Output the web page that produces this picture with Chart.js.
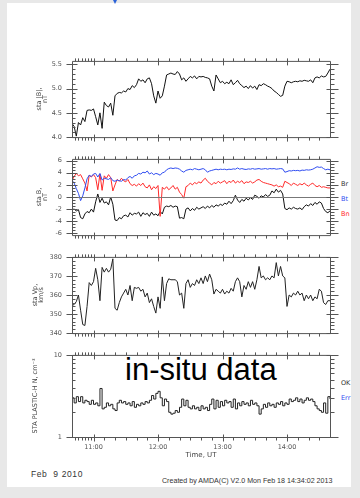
<!DOCTYPE html>
<html>
<head>
<meta charset="utf-8">
<script src="https://cdn.jsdelivr.net/npm/chart.js@4.4.1/dist/chart.umd.min.js"></script>
<style>
  html, body { margin: 0; padding: 0; }
  body { width: 360px; height: 498px; background: #e8e8e8; position: relative; overflow: hidden; font-family: "DejaVu Sans", sans-serif; }
  #card { position: absolute; left: 7px; top: 3px; width: 344px; height: 484px; background: #fff; overflow: hidden; }
  #pin { position: absolute; left: 113px; top: 0; width: 0; height: 0; border-left: 2px solid transparent; border-right: 2px solid transparent; border-top: 4px solid #2a62d8; }
  canvas { position: absolute; left: 0; }
  .side { position: absolute; font-size: 6.5px; line-height: 7px; white-space: nowrap; }
  #insitu { position: absolute; left: 118px; top: 351px; font: 31px/31px "Liberation Sans", Arial, sans-serif; color: #000; white-space: nowrap; }
  #date { position: absolute; left: 24px; top: 466px; font: 8.5px/10px "Liberation Sans", Arial, sans-serif; letter-spacing: .6px; color: #333; white-space: pre; }
  #made { position: absolute; left: 155px; top: 473px; font: 7.1px/10px "Liberation Sans", Arial, sans-serif; letter-spacing: 0; color: #333; white-space: pre; }
</style>
</head>
<body>
<div id="card">
  <div id="insitu">in-situ data</div>
  <div id="date">Feb  9 2010</div>
  <div id="made">Created by AMDA(C) V2.0 Mon Feb 18 14:34:02 2013</div>
</div>
<div id="pin"></div>
<canvas id="pB" width="360" height="104" style="top:47px"></canvas>
<canvas id="pComp" width="360" height="104" style="top:145px"></canvas>
<canvas id="pV" width="360" height="104" style="top:243px"></canvas>
<canvas id="pN" width="360" height="118" style="top:341px"></canvas>
<script>
// sample times, minutes of the day (10:40 .. 14:40 UT)
const times = [
  640,642,644,646,648,650,652,654,656,658,
  660,662,664,666,668,670,672,674,676,678,
  680,682,684,686,688,690,692,694,696,698,
  700,702,704,706,708,710,712,714,716,718,
  720,722,724,726,728,730,732,734,736,738,
  740,742,744,746,748,750,752,754,756,758,
  760,762,764,766,768,770,772,774,776,778,
  780,782,784,786,788,790,792,794,796,798,
  800,802,804,806,808,810,812,814,816,818,
  820,822,824,826,828,830,832,834,836,838,
  840,842,844,846,848,850,852,854,856,858,
  860,862,864,866,868,870,872,874,876,878,
  880
];

// |B|, nT
const absB = [
  4.28,4.22,4.02,4.30,4.25,4.40,4.32,4.55,4.56,4.55,
  4.58,4.42,4.25,4.50,4.18,4.72,4.65,4.62,4.70,4.45,
  4.85,4.90,4.92,4.91,4.95,4.93,5.00,4.98,5.06,5.02,
  5.08,5.20,5.15,5.18,5.12,5.20,5.22,5.10,4.85,4.70,
  4.95,4.80,4.85,5.05,5.28,5.30,5.32,5.30,5.29,5.35,
  5.30,5.18,5.22,5.15,5.20,5.25,5.22,5.26,5.20,5.25,
  5.24,5.25,5.23,5.22,5.20,5.05,4.95,5.28,5.20,5.12,
  5.15,5.10,5.13,5.10,5.18,5.08,5.12,5.17,5.10,5.06,
  5.02,5.05,5.00,5.06,5.01,5.05,4.98,5.08,5.06,5.10,
  5.08,5.05,5.03,5.00,4.95,4.92,4.88,4.84,4.86,5.05,
  5.15,5.14,5.12,5.14,5.15,5.14,5.16,5.15,5.17,5.16,
  5.15,5.18,5.12,5.22,5.24,5.22,5.26,5.24,5.25,5.32,
  5.40
];

// B components, nT
const bR = [
  -2.1,-2.0,-2.3,-2.1,-3.4,-3.6,-2.8,-2.4,-2.6,-2.0,
  -2.5,-0.8,0.5,-0.9,-0.2,-1.0,-0.8,-1.3,0.0,-1.2,
  -3.8,-3.9,-3.4,-3.6,-3.1,-3.0,-3.3,-2.6,-3.0,-2.7,
  -2.8,-2.5,-3.2,-2.6,-2.9,-2.7,-3.2,-2.5,-3.0,-2.8,
  -3.1,-2.4,-2.8,-1.7,-1.5,-1.6,-1.4,-1.7,-1.5,-1.6,
  -3.5,-3.4,-3.6,-2.0,-1.8,-2.3,-1.9,-2.2,-1.7,-2.0,
  -1.8,-1.6,-1.9,-1.5,-1.8,-1.4,-1.7,-1.3,-1.5,-1.2,
  -1.4,-1.0,-1.2,-0.7,-1.1,-0.6,0.3,-0.5,-0.9,-0.4,
  -0.7,-0.2,-0.5,-0.1,-0.4,0.3,0.1,-0.2,0.2,0.0,
  0.4,0.1,0.3,1.0,0.7,1.3,0.8,1.1,0.5,-1.9,
  -2.1,-1.8,-2.0,-1.7,-1.9,-2.0,-1.8,-2.1,-1.6,-1.3,
  -1.5,-1.1,-1.4,-0.9,-1.2,-0.8,-1.0,-1.9,-2.4,-2.6,
  -2.3
];
const bT = [
  2.75,2.3,1.4,0.6,-0.6,0.2,1.5,3.0,3.6,3.4,
  3.8,3.9,3.3,3.9,2.8,3.1,3.0,2.9,3.2,2.7,
  2.6,2.8,2.7,2.6,2.9,2.8,3.2,3.4,3.1,3.5,
  3.6,3.9,3.8,4.1,4.0,4.3,3.8,4.0,3.7,3.9,
  3.8,3.6,4.0,4.1,4.5,4.7,4.8,4.7,4.8,4.75,
  4.6,4.3,4.1,4.4,4.5,4.6,4.5,4.7,4.6,4.5,
  4.6,4.7,4.5,4.1,4.3,4.4,4.5,4.6,4.5,4.6,
  4.55,4.6,4.5,4.6,4.55,4.65,4.6,4.8,4.6,4.7,
  4.6,4.55,4.65,4.6,4.7,4.6,4.65,4.7,4.6,4.65,
  4.7,4.6,4.7,4.65,4.7,4.6,4.65,4.7,4.65,4.1,
  4.2,4.35,4.3,4.4,4.35,4.4,4.3,4.45,4.4,4.5,
  4.45,4.5,4.6,4.8,5.0,4.9,4.95,4.7,4.5,4.6,
  4.5
];
const bN = [
  2.75,3.4,3.9,3.5,3.7,3.0,2.3,1.0,3.6,3.3,
  3.7,3.2,1.2,3.8,1.1,3.5,3.1,3.7,3.2,1.0,
  2.0,2.9,2.6,3.1,2.7,2.5,2.9,2.2,1.9,2.1,
  1.8,2.2,1.9,2.3,1.7,1.5,2.0,1.2,1.7,1.4,
  1.9,-3.2,1.6,1.3,1.7,1.2,1.5,1.9,1.3,1.6,
  0.8,0.4,-0.2,1.7,1.9,2.3,2.0,2.4,2.2,2.5,
  2.3,2.8,3.1,2.6,2.3,2.0,2.4,2.2,2.6,2.3,
  2.5,2.7,2.2,2.6,2.4,2.8,2.3,2.6,2.4,2.7,
  2.2,2.5,2.4,2.6,2.3,2.5,2.8,2.9,2.6,2.4,
  2.3,2.2,2.1,2.0,1.8,2.0,1.7,1.8,1.6,2.6,
  2.4,2.2,1.9,2.3,2.1,1.9,2.2,2.0,2.3,2.0,
  1.8,2.1,2.3,1.9,1.7,1.9,1.6,1.7,1.6,1.5,
  1.5
];

// proton speed, km/s
const vP = [
  354.5,355,356.5,360,352,344.5,344,354,366.5,365,
  367,374,368,357,374.5,372,374,372,373.5,379,
  353,352,356,359,361,363,360,365,357,364,
  363.5,364,362,363,359,361,356,358,354,350.5,
  359,353,369.5,357,366,368.5,368,368,368,367,
  360,361,353,366,368,364,366,365,368,366,
  369,366,370,367,371,368,360.5,363,362,361,
  363,360.5,362,361,363.5,362,367,369,367,359,
  365,363,367,364,367,363,368,375,369,370,
  368,369,368,370,369,377,370,375,370,369,
  354,360,359,361,360,362,360,361,357,360,
  358,360,357,359,358,363,362,356,355,357,
  357
];

// PLASTIC proton density, cm^-3
const nP = [
  3.0,2.6,3.1,2.7,3.1,2.6,2.8,2.7,2.5,2.8,
  2.5,2.6,2.4,3.9,2.2,2.3,2.6,2.4,2.5,2.2,
  2.1,2.6,2.8,2.6,2.7,2.5,2.6,2.4,2.7,2.3,
  2.5,2.4,2.6,2.5,2.7,2.6,2.8,3.2,2.9,3.4,
  3.6,3.0,2.4,2.9,2.7,2.0,1.9,1.95,2.1,2.0,
  2.3,2.9,2.4,2.8,2.3,2.2,2.4,2.2,2.3,2.1,
  2.4,2.2,2.3,2.1,2.5,2.9,2.2,2.8,2.3,2.7,
  2.4,2.8,2.6,2.7,2.3,2.9,2.2,2.6,2.4,2.7,
  2.5,2.6,2.4,2.8,2.5,2.6,2.4,1.9,2.2,2.5,
  2.3,2.6,2.4,2.5,2.3,2.6,2.5,2.7,2.4,2.6,
  2.5,2.9,2.7,2.8,3.0,2.7,2.9,2.6,2.8,3.0,
  2.8,2.9,2.7,2.4,2.2,2.1,2.0,2.6,1.95,3.1,
  2.9
];

// time axis ticks
const hourTicks = [660, 720, 780, 840];
const hourLabels = ['11:00', '12:00', '13:00', '14:00'];
const minuteTicks = [643,646,649,652,655,658,670,680,690,700,710,730,740,750,760,770,790,800,810,820,830,850,860,870];

// y axis ticks per panel
const bMagTicks = [4.0, 4.5, 5.0, 5.5];
const bMagLabels = ['4.0', '4.5', '5.0', '5.5'];
const bMagMinor = [4.1,4.2,4.3,4.4,4.6,4.7,4.8,4.9,5.1,5.2,5.3,5.4];
const bCompTicks = [-6, -4, -2, 0, 2, 4, 6];
const bCompLabels = ['-6', '-4', '-2', '0', '2', '4', '6'];
const bCompMinor = [-5.5,-5,-4.5,-3.5,-3,-2.5,-1.5,-1,-0.5,0.5,1,1.5,2.5,3,3.5,4.5,5,5.5];
const vTicks = [340, 350, 360, 370, 380];
const vLabels = ['340', '350', '360', '370', '380'];
const vMinor = [342,344,346,348,352,354,356,358,362,364,366,368,372,374,376,378];
const nTicks = [1, 10];
const nLabels = ['1', '10'];
const nMinor = [2,3,4,5,6,7,8,9];

const compNames = ['Br', 'Bt', 'Bn'];
const flagNames = ['OK', 'Err'];

Chart.defaults.font.family = '"DejaVu Sans", sans-serif';
Chart.defaults.color = '#555';

// IDL-like frame: box, hour/minute ticks on top & bottom, y ticks both sides
const framePlugin = {
  id: 'frame',
  afterDatasetsDraw(chart, args, o) {
    const {ctx, chartArea: a} = chart;
    const x = chart.scales.x, y = chart.scales.y;
    const L = a.left + 0.5, R = a.right + 0.5, T = a.top + 0.5, B = a.bottom + 0.5;
    const seg = (x1, y1, x2, y2) => { ctx.moveTo(x1, y1); ctx.lineTo(x2, y2); };
    ctx.save();
    ctx.lineWidth = 1;
    if (o.zero) {
      const py = Math.round(y.getPixelForValue(0)) + 0.5;
      ctx.strokeStyle = '#777';
      ctx.beginPath(); seg(L, py, R, py); ctx.stroke();
    }
    ctx.strokeStyle = '#555';
    ctx.beginPath();
    ctx.rect(L, T, R - L, B - T);
    hourTicks.forEach(v => {
      const px = Math.round(x.getPixelForValue(v)) + 0.5;
      seg(px, T - 3, px, T + 4);
      seg(px, B - 3, px, B + 4);
    });
    minuteTicks.forEach(v => {
      const px = Math.round(x.getPixelForValue(v)) + 0.5;
      seg(px, T - 3, px, T);
      seg(px, B, px, B + 3);
    });
    o.major.forEach(v => {
      const py = Math.round(y.getPixelForValue(v)) + 0.5;
      seg(L - 6, py, L + 5, py);
      seg(R - 4, py, R + 8, py);
    });
    o.minor.forEach(v => {
      const py = Math.round(y.getPixelForValue(v)) + 0.5;
      seg(L, py, L + 3, py);
      seg(R, py, R + 4, py);
    });
    ctx.stroke();
    ctx.restore();
  }
};

function makePanel(id, cfg) {
  const datasets = cfg.series.map(s => ({
    data: times.map((t, i) => ({x: t, y: s.values[i]})),
    borderColor: s.color,
    borderWidth: 1,
    pointRadius: 0,
    tension: 0,
    stepped: s.stepped || false
  }));
  const showTime = !!cfg.timeAxis;
  return new Chart(document.getElementById(id), {
    type: 'line',
    data: {datasets},
    plugins: [framePlugin],
    options: {
      responsive: false,
      animation: false,
      devicePixelRatio: 1,
      events: [],
      layout: {padding: {left: cfg.padLeft, right: 30, top: 6, bottom: showTime ? 0 : 6}},
      plugins: {
        legend: {display: false},
        tooltip: {enabled: false},
        frame: {major: cfg.major, minor: cfg.minor, zero: !!cfg.zero}
      },
      scales: {
        x: {
          type: 'linear', min: 640, max: 880,
          display: showTime,
          afterBuildTicks: s => { s.ticks = hourTicks.map(v => ({value: v})); },
          afterFit: s => { s.height = showTime ? 22 : 0; },
          ticks: {autoSkip: false, maxRotation: 0, padding: 6, font: {size: 6.5}, color: '#555',
                  callback: (v, i) => hourLabels[i]},
          grid: {display: false, drawTicks: false},
          border: {display: false},
          title: {display: true, text: 'Time, UT', font: {size: 7}, color: '#444', padding: {top: 0, bottom: 0}}
        },
        y: {
          type: cfg.log ? 'logarithmic' : 'linear',
          min: cfg.min, max: cfg.max,
          afterBuildTicks: s => { s.ticks = cfg.major.map(v => ({value: v})); },
          afterFit: s => { s.width = 72 - cfg.padLeft; },
          ticks: {autoSkip: false, padding: 10, font: {size: 6.5}, color: '#555', callback: (v, i) => cfg.labels[i]},
          grid: {display: false, drawTicks: false},
          border: {display: false},
          title: {display: true, text: cfg.title, font: {size: 6.5, lineHeight: 1}, color: '#444', padding: {top: 2, bottom: 0}}
        }
      }
    }
  });
}

makePanel('pB', {
  series: [{values: absB, color: '#111'}],
  min: 4.0, max: 5.57, major: bMagTicks, labels: bMagLabels, minor: bMagMinor,
  title: ['sta |B|,', 'nT'], padLeft: 34
});

makePanel('pComp', {
  series: [
    {values: bT, color: '#2f4cf0'},
    {values: bN, color: '#ff2a2a'},
    {values: bR, color: '#111'}
  ],
  min: -6.3, max: 6.3, major: bCompTicks, labels: bCompLabels, minor: bCompMinor,
  title: ['sta B,', 'nT'], padLeft: 34, zero: true
});

makePanel('pV', {
  series: [{values: vP, color: '#222'}],
  min: 340, max: 380, major: vTicks, labels: vLabels, minor: vMinor,
  title: ['sta Vp,', 'km/s'], padLeft: 30
});

makePanel('pN', {
  series: [{values: nP, color: '#222', stepped: true}],
  log: true, min: 1, max: 10, major: nTicks, labels: nLabels, minor: nMinor,
  title: 'STA PLASTIC-H N, cm\u207B\u00B3', padLeft: 30, timeAxis: true
});

// series names at the right of the panels
const card = document.getElementById('card');
function sideLabel(text, x, y, color) {
  const d = document.createElement('div');
  d.className = 'side';
  d.textContent = text;
  d.style.left = (x - 7) + 'px';
  d.style.top = (y - 3 - 3.5) + 'px';
  d.style.color = color;
  card.appendChild(d);
}
const compColors = ['#333', '#2f4cf0', '#ff2a2a'];
compNames.forEach((n, i) => sideLabel(n, 341, 184.5 + i * 14.8, compColors[i]));
const flagColors = ['#333', '#2f4cf0'];
flagNames.forEach((n, i) => sideLabel(n, 341, 383.5 + i * 15, flagColors[i]));
</script>
</body>
</html>
